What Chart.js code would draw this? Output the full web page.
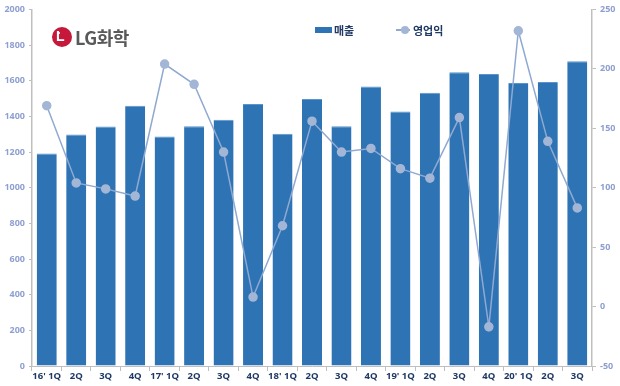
<!DOCTYPE html>
<html>
<head>
<meta charset="utf-8">
<script src="https://cdn.jsdelivr.net/npm/chart.js@4.4.1/dist/chart.umd.min.js"></script>
<style>
  html, body { margin: 0; padding: 0; background: #fff; }
  #wrap { position: relative; width: 620px; height: 386px; }
  #logo { position: absolute; left: 52px; top: 24px; display: flex; align-items: center; }
  #logo .mark { width: 20px; height: 20px; border-radius: 50%; background: #c5183a; position: relative; }
  #logo .mark span { position: absolute; left: 4px; top: 1px; color: #fff; font: bold 14px "Liberation Sans", sans-serif; }
  #logo .mark i { position: absolute; left: 6px; top: 5px; width: 2px; height: 2px; background: #fff; border-radius: 50%; }
  #logo .txt { margin-left: 3px; font: bold 18px "Noto Sans CJK KR", sans-serif; color: #595959; letter-spacing: -0.5px; }
  .lg { position: absolute; top: 22px; font: bold 11px "Noto Sans CJK KR", sans-serif; color: #1f3864; display: flex; align-items: center; }
  .lg .box { width: 17px; height: 6px; background: #2e74b5; margin-right: 2px; }
  .lg .ln { width: 14px; height: 2px; background: #8fa9d1; position: relative; margin-right: 3px; }
  .lg .ln i { position: absolute; left: 5px; top: -3px; width: 8px; height: 8px; border-radius: 50%; background: #a3b6d6; }
</style>
</head>
<body>
<div id="wrap">
  <canvas id="chart" width="620" height="386"></canvas>
  <div id="logo"><div class="mark"><span>L</span><i></i></div><div class="txt">LG화학</div></div>
  <div class="lg" style="left:315px"><div class="box"></div>매출</div>
  <div class="lg" style="left:396px"><div class="ln"><i></i></div>영업익</div>
</div>
<script>
const quarters = ["16' 1Q", "2Q", "3Q", "4Q", "17' 1Q", "2Q", "3Q", "4Q", "18' 1Q", "2Q", "3Q", "4Q", "19' 1Q", "2Q", "3Q", "4Q", "20' 1Q", "2Q", "3Q"];
// 매출 (left axis)
const sales = [1192, 1298, 1343, 1459, 1287, 1344, 1381, 1470, 1302, 1498, 1344, 1567, 1428, 1532, 1648, 1637, 1587, 1593, 1709];
// 영업익 (right axis)
const profit = [169, 104, 99, 93, 204, 187, 130, 8, 68, 156, 130, 133, 116, 108, 159, -17, 232, 139, 83];

const tickFont = { family: "Open Sans", size: 9, weight: "bold" };
const tickColor = "#8e9fd0";
const axisGray = "#bfbfbf";

new Chart(document.getElementById("chart"), {
  data: {
    labels: quarters,
    datasets: [
      {
        type: "line",
        label: "영업익",
        data: profit,
        yAxisID: "y2",
        borderColor: "#8fa9d1",
        borderWidth: 1.5,
        pointRadius: 4,
        pointBackgroundColor: "#a3b6d6",
        pointBorderColor: "#a3b6d6",
        tension: 0,
        order: 0
      },
      {
        type: "bar",
        label: "매출",
        data: sales,
        yAxisID: "y",
        backgroundColor: "#2e74b5",
        borderColor: "#5b93cc",
        borderWidth: { top: 1, left: 0, right: 0, bottom: 0 },
        barPercentage: 0.68,
        categoryPercentage: 1,
        order: 1
      }
    ]
  },
  options: {
    responsive: false,
    animation: false,
    layout: { padding: { top: 6, left: 0, right: 0, bottom: 0 } },
    plugins: { legend: { display: false }, tooltip: { enabled: false } },
    scales: {
      x: {
        offset: true,
        grid: { offset: true, drawOnChartArea: false, color: axisGray, tickLength: 5 },
        border: { color: axisGray },
        ticks: { color: "#1f3864", font: { family: "Open Sans", size: 9.5, weight: "bold" }, padding: 0, maxRotation: 0, autoSkip: false },
        afterFit: s => { s.height = 20; }
      },
      y: {
        position: "left",
        min: 0, max: 2000,
        ticks: { stepSize: 200, color: tickColor, font: tickFont, padding: 4, callback: v => String(v) },
        grid: { drawOnChartArea: false, color: axisGray, tickLength: 3 },
        border: { color: axisGray, width: 1.5 },
        afterFit: s => { s.width = 32; }
      },
      y2: {
        position: "right",
        min: -50, max: 250,
        ticks: { stepSize: 50, color: tickColor, font: tickFont, padding: 4, callback: v => String(v) },
        grid: { drawOnChartArea: false, color: axisGray, tickLength: 4 },
        border: { color: axisGray, width: 1.5 },
        afterFit: s => { s.width = 28; }
      }
    }
  }
});
</script>
</body>
</html>
